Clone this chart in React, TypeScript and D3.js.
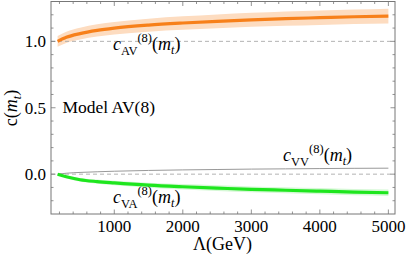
import * as d3 from "d3";

// Λ (GeV) sample points
const lambda = [173, 300, 500, 750, 1000, 1500, 2000, 2500, 3000, 3500, 4000, 4500, 5000];

// c_AV^(8)(m_t): central value and band
const cAV = [1.0, 1.03, 1.058, 1.082, 1.099, 1.122, 1.138, 1.151, 1.162, 1.171, 1.178, 1.185, 1.19];
const cAVhi = [1.04, 1.072, 1.102, 1.128, 1.146, 1.171, 1.189, 1.203, 1.215, 1.225, 1.233, 1.24, 1.246];
const cAVlo = [0.96, 0.988, 1.014, 1.036, 1.052, 1.073, 1.087, 1.099, 1.109, 1.117, 1.123, 1.13, 1.134];

// c_VA^(8)(m_t)
const cVA = [0, -0.02, -0.042, -0.056, -0.066, -0.083, -0.095, -0.105, -0.114, -0.121, -0.128, -0.135, -0.14];
const cVAhi = [0.003, -0.01, -0.028, -0.04, -0.049, -0.064, -0.075, -0.084, -0.092, -0.099, -0.105, -0.111, -0.116];
const cVAlo = [-0.003, -0.03, -0.056, -0.072, -0.083, -0.102, -0.115, -0.126, -0.136, -0.143, -0.151, -0.159, -0.164];

// c_VV^(8)(m_t)
const cVV = [0, 0.007, 0.013, 0.018, 0.022, 0.028, 0.032, 0.035, 0.038, 0.04, 0.042, 0.044, 0.045];

const xMajor = [1000, 2000, 3000, 4000, 5000];
const xMinor = d3.range(200, 5001, 200);
const yMajor = [0, 0.5, 1.0];
const yMinor = d3.range(-2, 13).map((d) => d / 10);

const W = 407, H = 263;
const L = 51, R = 395, T = 1.5, B = 214;
const font = "Liberation Serif, serif";

function CLabel({ x, y, sub }: { x: number; y: number; sub: string }) {
  return (
    <text x={x} y={y} fontFamily={font} fontSize={18} fill="#000">
      <tspan fontStyle="italic">c</tspan>
      <tspan fontSize={12.5} dy={5}>{sub}</tspan>
      <tspan fontSize={12.5} dy={-13}>(8)</tspan>
      <tspan dy={8}>(</tspan>
      <tspan fontStyle="italic">m</tspan>
      <tspan fontStyle="italic" fontSize={12} dy={4}>t</tspan>
      <tspan dy={-4}>)</tspan>
    </text>
  );
}

export default function App() {
  const x = d3.scaleLinear([76.5, 5096.5], [L, R]);
  const y = d3.scaleLinear([-0.3, 1.3], [B, T]);

  const line = (vals: number[]) =>
    d3.line<number>().x((_, i) => x(lambda[i])).y((d) => y(d)).curve(d3.curveMonotoneX)(vals) || "";
  const band = (lo: number[], hi: number[]) =>
    d3
      .area<number>()
      .x((_, i) => x(lambda[i]))
      .y0((_, i) => y(lo[i]))
      .y1((_, i) => y(hi[i]))
      .curve(d3.curveMonotoneX)(lambda) || "";

  const tickColor = "#777";

  return (
    <div style={{ position: "absolute", left: 0, top: 0 }}>
      <svg width={W} height={H}>
        <rect width={W} height={H} fill="#fff" />
        {/* bands */}
        <path d={band(cAVlo, cAVhi)} fill="#fddcc0" />
        <path d={band(cVAlo, cVAhi)} fill="#d6f8d6" />
        {/* reference dashed lines */}
        {[0, 1].map((v) => (
          <line key={v} x1={L} x2={R} y1={y(v)} y2={y(v)} stroke="#aaa" strokeWidth={0.9} strokeDasharray="4,3" />
        ))}
        {/* curves */}
        <path d={line(cVV)} fill="none" stroke="#999" strokeWidth={1} />
        <path d={line(cVA)} fill="none" stroke="#1ee61e" strokeWidth={3.2} />
        <path d={line(cAV)} fill="none" stroke="#f7801a" strokeWidth={3.2} />

        {/* frame */}
        <rect x={L} y={T} width={R - L} height={B - T} fill="none" stroke={tickColor} strokeWidth={1} />
        {/* x ticks bottom and top */}
        {xMinor.map((t) => {
          const len = xMajor.includes(t) ? 4.5 : 2.5;
          return (
            <g key={"x" + t} stroke={tickColor} strokeWidth={0.8}>
              <line x1={x(t)} x2={x(t)} y1={B} y2={B - len} />
              <line x1={x(t)} x2={x(t)} y1={T} y2={T + len} />
            </g>
          );
        })}
        {/* y ticks left and right */}
        {yMinor.map((t) => {
          const len = yMajor.some((m) => Math.abs(m - t) < 1e-9) ? 4.5 : 2.5;
          return (
            <g key={"y" + t} stroke={tickColor} strokeWidth={0.8}>
              <line x1={L} x2={L + len} y1={y(t)} y2={y(t)} />
              <line x1={R} x2={R - len} y1={y(t)} y2={y(t)} />
            </g>
          );
        })}
        {/* tick labels */}
        {xMajor.map((t) => (
          <text key={"xl" + t} x={x(t)} y={232} textAnchor="middle" fontFamily={font} fontSize={17}>
            {t}
          </text>
        ))}
        {yMajor.map((t) => (
          <text key={"yl" + t} x={46} y={y(t)} dy="0.35em" textAnchor="end" fontFamily={font} fontSize={17}>
            {d3.format(".1f")(t)}
          </text>
        ))}

        {/* axis titles */}
        <text x={222.5} y={250} textAnchor="middle" fontFamily={font} fontSize={18}>
          Λ(GeV)
        </text>
        <text transform="translate(17,108) rotate(-90)" textAnchor="middle" fontFamily={font} fontSize={18}>
          c(<tspan fontStyle="italic">m</tspan>
          <tspan fontStyle="italic" fontSize={12} dy={4}>t</tspan>
          <tspan dy={-4}>)</tspan>
        </text>

        {/* annotations */}
        <text x={62.5} y={112.5} fontFamily={font} fontSize={17.5}>
          Model AV(8)
        </text>
        <CLabel x={113} y={50} sub="AV" />
        <CLabel x={283} y={161} sub="VV" />
        <CLabel x={113} y={203} sub="VA" />
      </svg>
    </div>
  );
}
